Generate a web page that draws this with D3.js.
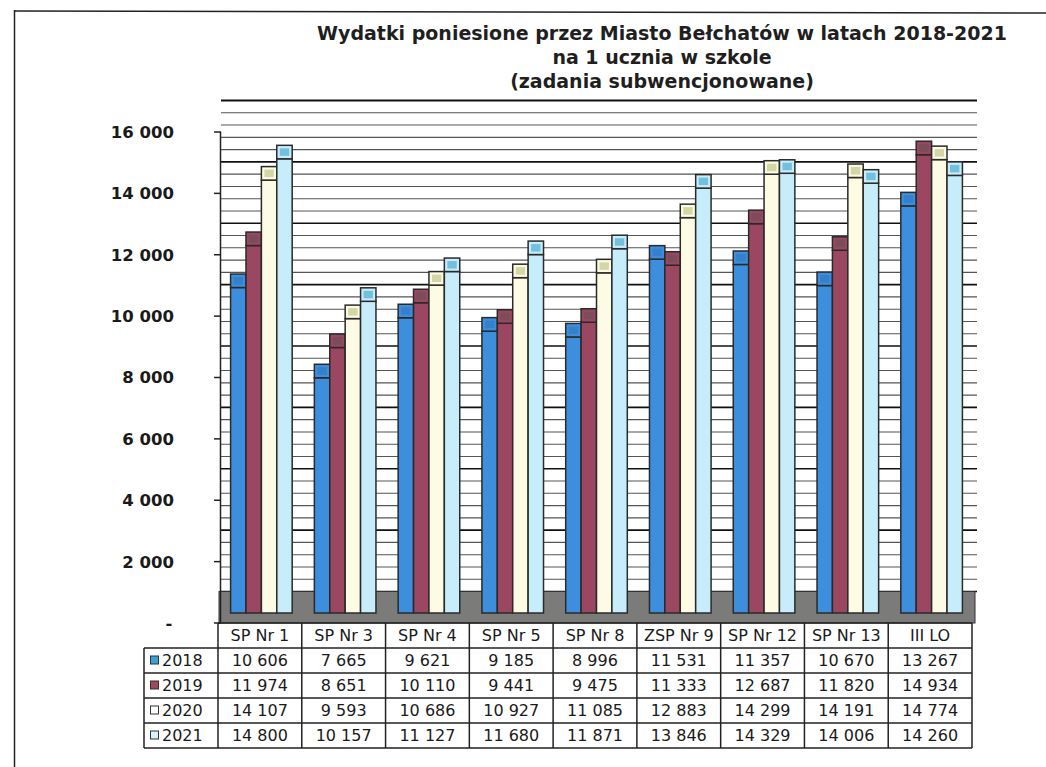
<!DOCTYPE html>
<html>
<head>
<meta charset="utf-8">
<script src="https://cdn.jsdelivr.net/npm/d3@7"></script>
<style>
  body { margin: 0; background: #fff; }
  svg { display: block; }
</style>
</head>
<body>
<svg width="1046" height="767"></svg>
<script>
// dane
var categories = ["SP Nr 1", "SP Nr 3", "SP Nr 4", "SP Nr 5", "SP Nr 8", "ZSP Nr 9", "SP Nr 12", "SP Nr 13", "III LO"];
var years = ["2018", "2019", "2020", "2021"];
var values2018 = [10606, 7665, 9621, 9185, 8996, 11531, 11357, 10670, 13267];
var values2019 = [11974, 8651, 10110, 9441, 9475, 11333, 12687, 11820, 14934];
var values2020 = [14107, 9593, 10686, 10927, 11085, 12883, 14299, 14191, 14774];
var values2021 = [14800, 10157, 11127, 11680, 11871, 13846, 14329, 14006, 14260];
var yTicks = [0, 2000, 4000, 6000, 8000, 10000, 12000, 14000, 16000];
var titleLines = ["Wydatki poniesione przez Miasto Bełchatów w latach 2018-2021",
                  "na 1 ucznia w szkole",
                  "(zadania subwencjonowane)"];

var series = [values2018, values2019, values2020, values2021];

// kolory: przod slupka, gorna sciana, znacznik legendy
var frontColors = ["#3d8fdd", "#9b4761", "#fdfbe3", "#c6edf9"];
var capColors = ["#3480cc", "#7b4d58", "#d3d6a6", "#72c0dd"];
var keyColors = ["#3ca0dc", "#a0485f", "#ffffff", "#d8f4fb"];

var svg = d3.select("svg");
var fmt = d3.formatLocale({ decimal: ",", thousands: " ", grouping: [3], currency: ["", ""] }).format(",d");

var wallDepth = 31.5;   // przesuniecie tylnej sciany
var barOffset = 10;     // przod slupka za krawedzia podlogi
var barDepth = 13.5;    // wysokosc gornej sciany

var y = d3.scaleLinear().domain([0, 16000]).range([623, 132]);
var x = d3.scaleBand().domain(categories).range([218, 972]);
var groupW = 61.6;
var x1 = d3.scaleBand().domain(years).range([0, groupW]);
var groupOff = (x.bandwidth() - groupW) / 2 + 1.5;

// ramka
svg.append("line").attr("x1", 14.5).attr("x2", 14.5).attr("y1", 10).attr("y2", 767)
  .attr("stroke", "#222").attr("stroke-width", 1.5);
svg.append("line").attr("x1", 14).attr("x2", 1046).attr("y1", 11).attr("y2", 13)
  .attr("stroke", "#222").attr("stroke-width", 1.5);

// tytul
svg.append("g").selectAll("text")
  .data(titleLines)
  .enter()
  .append("text")
  .attr("x", 662)
  .attr("y", function (d, i) { return 40 + i * 24; })
  .attr("text-anchor", "middle")
  .attr("font-family", "DejaVu Sans, sans-serif")
  .attr("font-size", "19px")
  .attr("font-weight", "bold")
  .attr("fill", "#1f1f1f")
  .text(function (d) { return d; });

// linie siatki na tylnej scianie (co 400)
var gridVals = d3.range(0, 16001, 400);
svg.append("g").selectAll("line")
  .data(gridVals)
  .enter()
  .append("line")
  .attr("x1", 221)
  .attr("x2", 977)
  .attr("y1", function (d) { return y(d) - wallDepth; })
  .attr("y2", function (d) { return y(d) - wallDepth; })
  .attr("stroke", function (d) { return d % 2000 == 0 ? "#111" : "#555"; })
  .attr("stroke-width", function (d) { return d == 16000 ? 2.2 : (d % 2000 == 0 ? 1.7 : 1.1); });

// podloga
svg.append("rect")
  .attr("x", 219)
  .attr("y", y(0) - wallDepth)
  .attr("width", 975 - 219)
  .attr("height", wallDepth)
  .attr("fill", "#7b7c79")
  .attr("stroke", "#333")
  .attr("stroke-width", 1);

// slupki
var groups = svg.append("g").selectAll("g")
  .data(categories)
  .enter()
  .append("g")
  .attr("transform", function (d) { return "translate(" + (x(d) + groupOff) + ",0)"; });

years.forEach(function (yr, s) {
  // przod
  groups.append("rect")
    .attr("x", x1(yr))
    .attr("y", function (d, i) { return y(series[s][i]) - barOffset; })
    .attr("width", x1.bandwidth())
    .attr("height", function (d, i) { return y(0) - y(series[s][i]); })
    .attr("fill", frontColors[s])
    .attr("stroke", "#2a2a2a")
    .attr("stroke-width", 1.5);
  // gorna sciana
  groups.append("rect")
    .attr("x", x1(yr))
    .attr("y", function (d, i) { return y(series[s][i]) - barOffset - barDepth; })
    .attr("width", x1.bandwidth())
    .attr("height", barDepth)
    .attr("fill", frontColors[s])
    .attr("stroke", "#2a2a2a")
    .attr("stroke-width", 1.5);
  groups.append("rect")
    .attr("x", x1(yr) + 3)
    .attr("y", function (d, i) { return y(series[s][i]) - barOffset - barDepth + 3; })
    .attr("width", x1.bandwidth() - 6)
    .attr("height", barDepth - 6)
    .attr("fill", capColors[s]);
});

// os Y
var axis = svg.append("g");
axis.append("line")
  .attr("x1", 220.5).attr("x2", 220.5)
  .attr("y1", y(16000)).attr("y2", y(0))
  .attr("stroke", "#222").attr("stroke-width", 1.5);
axis.selectAll(".tick")
  .data(yTicks)
  .enter()
  .append("line")
  .attr("x1", 214).attr("x2", 221)
  .attr("y1", function (d) { return y(d); })
  .attr("y2", function (d) { return y(d); })
  .attr("stroke", "#222").attr("stroke-width", 1.5);
axis.selectAll("text")
  .data(yTicks)
  .enter()
  .append("text")
  .attr("x", function (d) { return d == 0 ? 169 : 174; })
  .attr("y", function (d) { return y(d); })
  .attr("dy", "0.36em")
  .attr("text-anchor", function (d) { return d == 0 ? "middle" : "end"; })
  .attr("font-family", "DejaVu Sans, sans-serif")
  .attr("font-size", "16.5px")
  .attr("font-weight", "bold")
  .attr("fill", "#1a1a1a")
  .text(function (d) { return d == 0 ? "-" : fmt(d); });

// tabela danych
var table = svg.append("g").attr("font-family", "DejaVu Sans, sans-serif").attr("font-size", "16px").attr("fill", "#1a1a1a");
var headTop = 623, rowH = 25, legLeft = 144;
var tableRight = x.range()[1];

// linie poziome
table.append("line").attr("x1", x.range()[0]).attr("x2", tableRight)
  .attr("y1", headTop).attr("y2", headTop).attr("stroke", "#222").attr("stroke-width", 1.5);
table.selectAll(".hline")
  .data(d3.range(0, years.length + 1))
  .enter()
  .append("line")
  .attr("x1", legLeft).attr("x2", tableRight)
  .attr("y1", function (d) { return headTop + rowH * (d + 1); })
  .attr("y2", function (d) { return headTop + rowH * (d + 1); })
  .attr("stroke", "#222").attr("stroke-width", 1.5);
// linie pionowe
table.selectAll(".vline")
  .data(categories.map(function (c) { return x(c); }).concat([tableRight]))
  .enter()
  .append("line")
  .attr("x1", function (d) { return d; }).attr("x2", function (d) { return d; })
  .attr("y1", headTop).attr("y2", headTop + rowH * 5)
  .attr("stroke", "#222").attr("stroke-width", 1.5);
table.append("line").attr("x1", legLeft).attr("x2", legLeft)
  .attr("y1", headTop + rowH).attr("y2", headTop + rowH * 5)
  .attr("stroke", "#222").attr("stroke-width", 1.5);

// naglowki
table.selectAll(".head")
  .data(categories)
  .enter()
  .append("text")
  .attr("x", function (d) { return x(d) + x.bandwidth() / 2; })
  .attr("y", headTop + rowH / 2)
  .attr("dy", "0.36em")
  .attr("text-anchor", "middle")
  .text(function (d) { return d; });

years.forEach(function (yr, s) {
  var rowY = headTop + rowH * (s + 1) + rowH / 2;
  table.append("rect")
    .attr("x", 150.5).attr("y", rowY - 4.5)
    .attr("width", 8).attr("height", 8)
    .attr("fill", keyColors[s])
    .attr("stroke", "#333").attr("stroke-width", 1);
  table.append("text")
    .attr("x", 162).attr("y", rowY).attr("dy", "0.36em")
    .text(yr);
  table.selectAll(".v" + yr)
    .data(series[s])
    .enter()
    .append("text")
    .attr("x", function (d, i) { return x(categories[i]) + x.bandwidth() / 2; })
    .attr("y", rowY)
    .attr("dy", "0.36em")
    .attr("text-anchor", "middle")
    .text(function (d) { return fmt(d); });
});
</script>
</body>
</html>
